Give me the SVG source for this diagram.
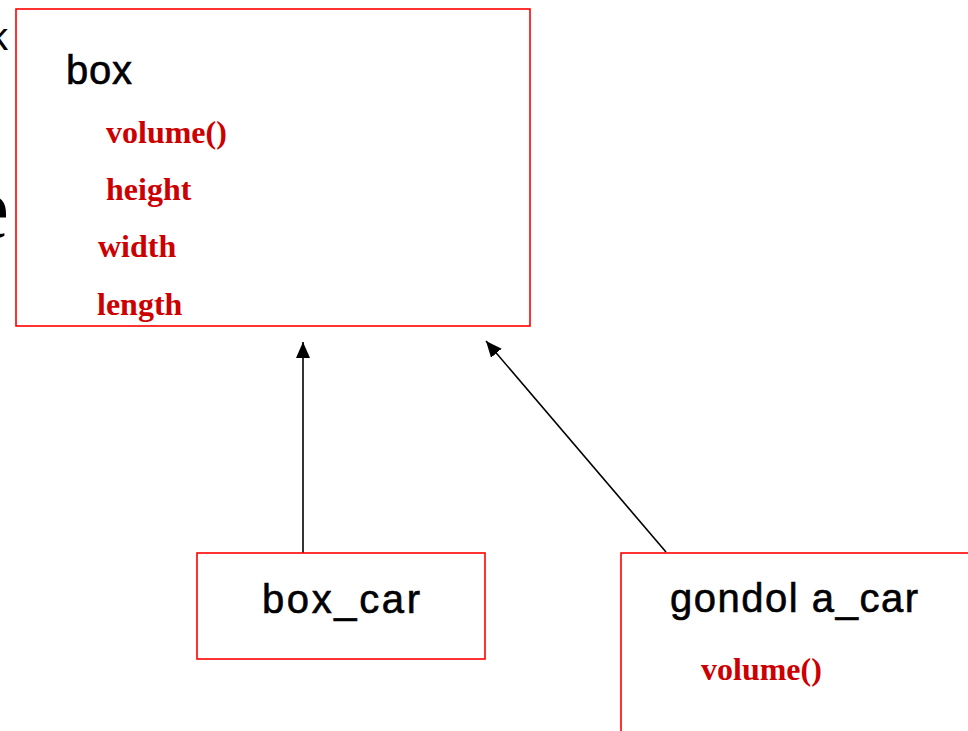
<svg xmlns="http://www.w3.org/2000/svg" width="968" height="731" viewBox="0 0 968 731">
<style>
.node{fill:#ffffff;stroke:#ff0000;stroke-width:1.6}
.title{font-family:"Liberation Sans",Arial,sans-serif;font-size:40px;fill:#000000;stroke:#000000;stroke-width:0.6}
.attr{font-family:"Liberation Serif","Times New Roman",serif;font-size:32px;font-weight:bold;fill:#cc0000}
.bg{fill:#000000}
.conn{stroke:#000000;stroke-width:1.6;fill:none}
</style>
<defs>
<marker id="arrow" viewBox="0 0 16 14" refX="16" refY="7" markerWidth="16" markerHeight="14" markerUnits="userSpaceOnUse" orient="auto">
<path d="M0,0 L16,7 L0,14 Z" fill="#000000"/>
</marker>
</defs>
<rect width="968" height="731" fill="#ffffff"/>
<text class="bg" x="-11" y="50" font-family="'Liberation Sans',Arial,sans-serif" font-size="38">k</text>
<text class="bg" x="-30" y="238" font-family="'Liberation Serif','Times New Roman',serif" font-size="88">e</text>
<g id="connectors">
<line class="conn" x1="303" y1="553" x2="303" y2="342" marker-end="url(#arrow)"/>
<line class="conn" x1="666" y1="552" x2="486" y2="341" marker-end="url(#arrow)"/>
</g>
<g id="box">
<rect class="node" x="16" y="9" width="514" height="317"/>
<text class="title" x="66" y="84" textLength="66" lengthAdjust="spacing">box</text>
<text class="attr" x="106" y="143">volume()</text>
<text class="attr" x="106" y="200">height</text>
<text class="attr" x="98" y="257">width</text>
<text class="attr" x="97" y="315">length</text>
</g>
<g id="box_car">
<rect class="node" x="197" y="553" width="288" height="106"/>
<text class="title" x="262" y="613" textLength="158" lengthAdjust="spacing">box_car</text>
</g>
<g id="gondola_car">
<rect class="node" x="621" y="553" width="360" height="200"/>
<text class="title" x="670" y="612" textLength="248" lengthAdjust="spacing">gondol a_car</text>
<text class="attr" x="701" y="680">volume()</text>
</g>
</svg>
